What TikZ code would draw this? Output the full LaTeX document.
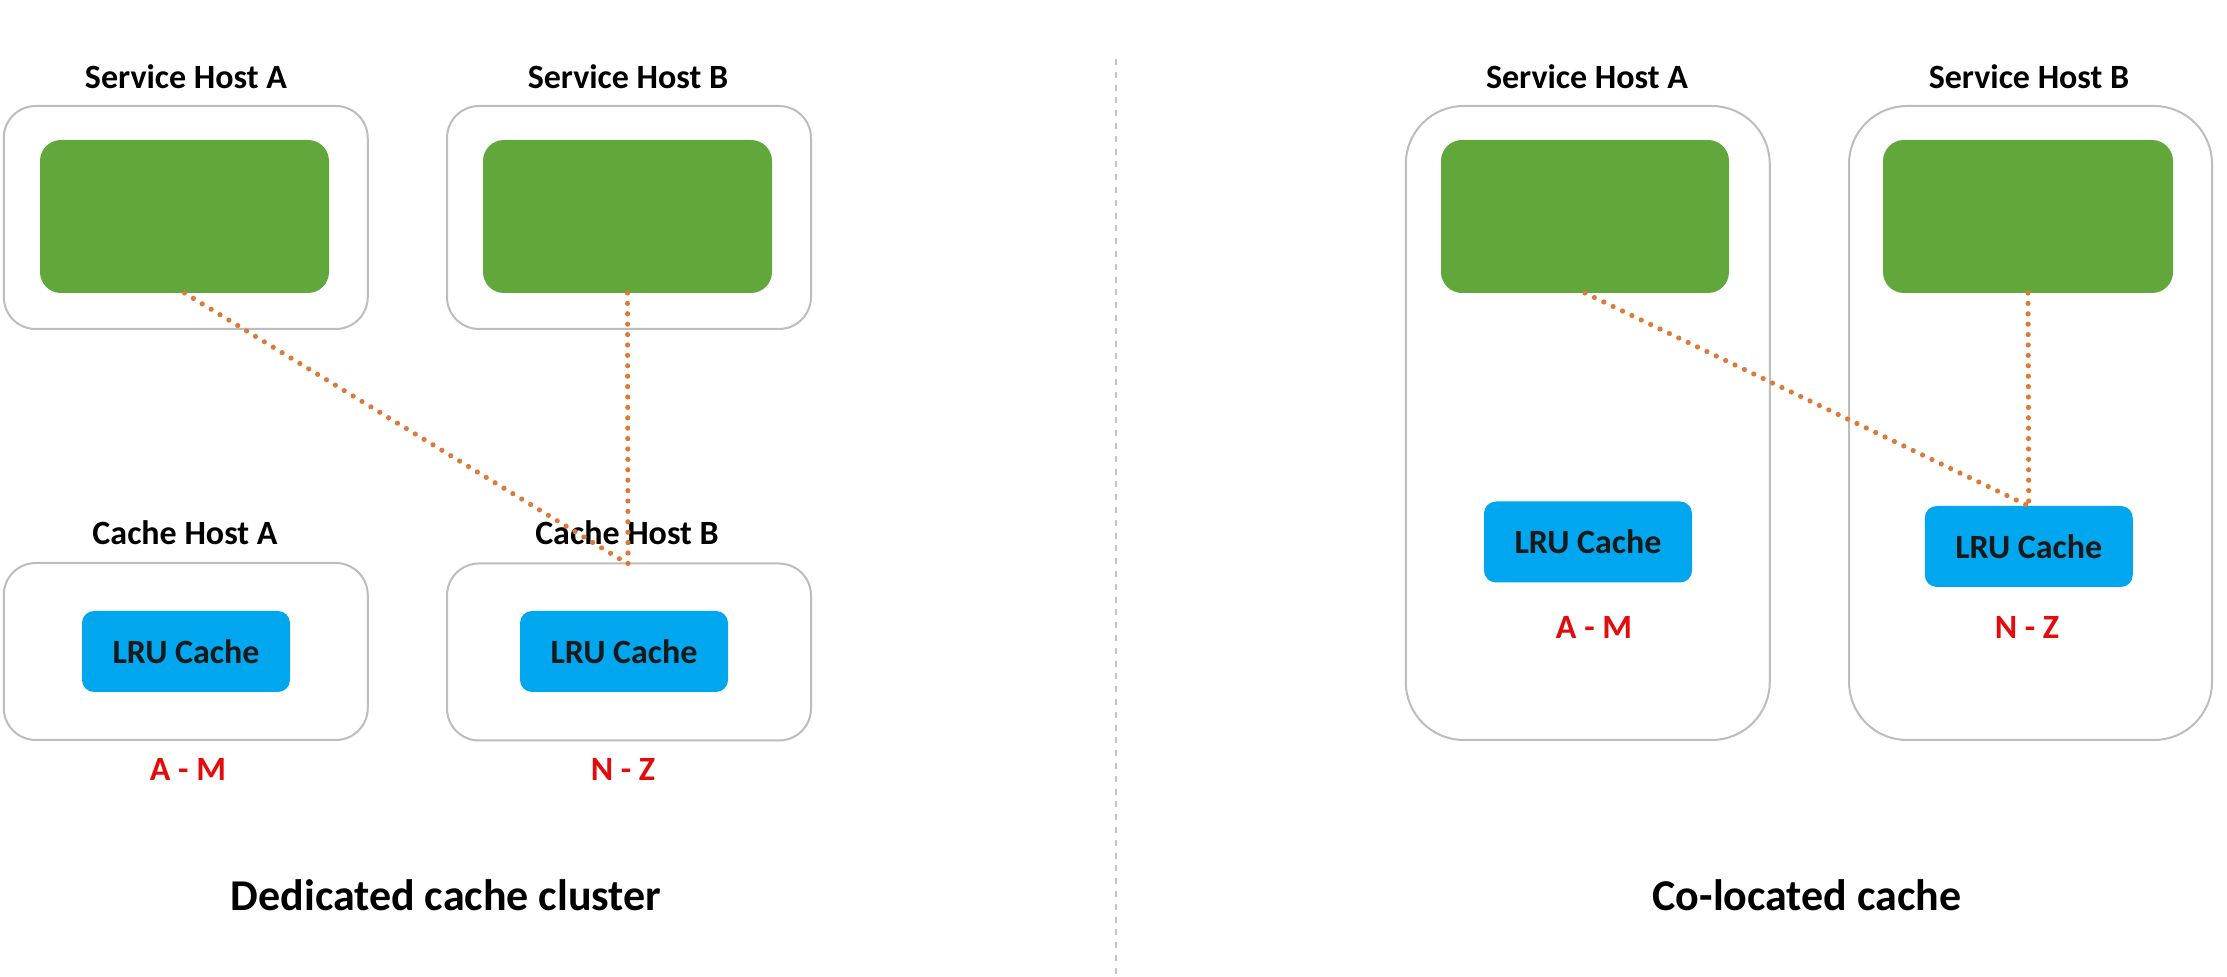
\documentclass[tikz,border=0pt]{standalone}
\usepackage{fontspec}
\setmainfont{Carlito}
\definecolor{hostgray}{HTML}{BDBDBD}
\definecolor{svcgreen}{HTML}{62A73B}
\definecolor{lrublue}{HTML}{00A6EE}
\definecolor{rangered}{HTML}{E30B0B}
\definecolor{linkorange}{HTML}{DD7A38}
\definecolor{sepgray}{HTML}{C4C4C4}
\tikzset{
  hostbox/.style={draw=hostgray, line width=1pt, fill=white, rounded corners=16pt, inner sep=0pt, outer sep=0pt, minimum width=182pt},
  tallbox/.style={hostbox, rounded corners=29pt},
  svcbox/.style={fill=svcgreen, rounded corners=10.5pt, inner sep=0pt, outer sep=0pt, minimum width=144.5pt, minimum height=76.5pt},
  lrubox/.style={fill=lrublue, rounded corners=6pt, inner sep=0pt, outer sep=0pt, minimum width=104pt, minimum height=40.5pt, font=\fontsize{17}{20}\selectfont\bfseries, text=black!90},
  hostlabel/.style={anchor=base, inner sep=0pt, font=\fontsize{17}{20}\selectfont\bfseries},
  rangelabel/.style={anchor=base, inner sep=0pt, text=rangered, font=\fontsize{17}{20}\selectfont\bfseries},
  titlelabel/.style={anchor=base, inner sep=0pt, font=\fontsize{22}{26}\selectfont\bfseries},
  link/.style={draw=linkorange, line width=2.6pt, line cap=round, dash pattern=on 0pt off 5.2pt},
  sepline/.style={draw=sepgray, line width=1pt, dash pattern=on 3pt off 3.4pt}
}
\begin{document}
\begin{tikzpicture}[x=0.5pt, y=-0.5pt]
\path[use as bounding box, fill=white] (0,0) rectangle (2227,977);

% separator
\coordinate (septop) at (1116,59);
\coordinate (sepbot) at (1116,977);
\draw[sepline] (septop) -- (sepbot);

% ---------- Left: dedicated cache cluster ----------
\node[hostbox, minimum height=111.5pt] (sA) at (185.75,217.5) {};
\node[hostbox, minimum height=111.5pt] (sB) at (629,217.5) {};
\node[svcbox] (gA) at (184.5,216.5) {};
\node[svcbox] (gB) at (627.5,216.5) {};
\node[hostlabel] (sAl) at (186,89) {Service Host A};
\node[hostlabel] (sBl) at (628,89) {Service Host B};

\node[hostbox, minimum height=88.5pt] (cA) at (185.75,651.5) {};
\node[hostbox, minimum height=88.5pt] (cB) at (629,652) {};
\node[lrubox] (lA) at (186,651.5) {LRU Cache};
\node[lrubox] (lB) at (624,651.5) {LRU Cache};
\node[hostlabel] (cAl) at (185,545) {Cache Host A};
\node[hostlabel] (cBl) at (627,545) {Cache Host B};
\node[rangelabel] (rA) at (188,780) {A - M};
\node[rangelabel] (rB) at (623,780) {N - Z};
\node[titlelabel] (t1) at (446,910) {Dedicated cache cluster};

\coordinate (cBtop) at (628,564);
\draw[link] (gA.south) -- (cBtop);
\draw[link] (gB.south) -- (cBtop);

% ---------- Right: co-located cache ----------
\node[tallbox, minimum height=317pt] (RA) at (1587.75,423) {};
\node[tallbox, minimum height=317pt, minimum width=181.5pt] (RB) at (2030.5,423) {};
\node[svcbox, minimum width=144pt] (RgA) at (1585,216.5) {};
\node[svcbox, minimum width=145pt] (RgB) at (2028,216.5) {};
\node[hostlabel] (RAl) at (1587,89) {Service Host A};
\node[hostlabel] (RBl) at (2029,89) {Service Host B};
\node[lrubox] (RlA) at (1588,542) {LRU Cache};
\node[lrubox] (RlB) at (2028.75,546.5) {LRU Cache};
\node[rangelabel] (RrA) at (1594,639) {A - M};
\node[rangelabel] (RrB) at (2027,639) {N - Z};
\node[titlelabel] (t2) at (1807,910) {Co-located cache};

\draw[link] (RgA.south) -- (RlB.north);
\draw[link] (RgB.south) -- (RlB.north);
\end{tikzpicture}
\end{document}
